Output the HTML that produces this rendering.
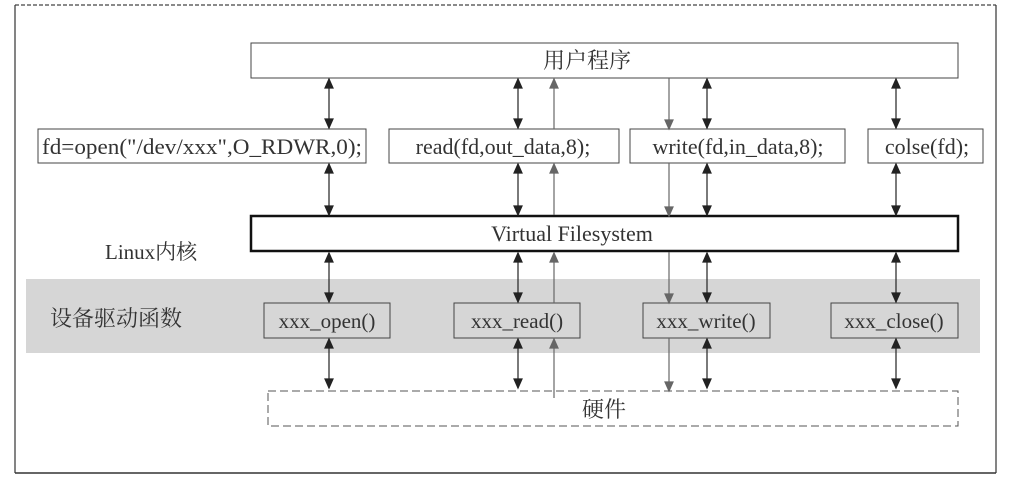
<!DOCTYPE html>
<html><head><meta charset="utf-8"><style>
html,body{margin:0;padding:0;background:#fff;}
svg{display:block;}
text{font-family:"Liberation Serif","Noto Serif CJK SC",serif;fill:#333;}
</style></head><body>
<svg width="1009" height="483" viewBox="0 0 1009 483" xmlns="http://www.w3.org/2000/svg">
<rect width="1009" height="483" fill="#fff"/>
<line x1="15" y1="5" x2="996" y2="5" stroke="#444" stroke-width="1.2" stroke-dasharray="4,2"/>
<line x1="15" y1="5" x2="15" y2="473" stroke="#333" stroke-width="1.2"/>
<line x1="996" y1="5" x2="996" y2="473" stroke="#333" stroke-width="1.2"/>
<line x1="15" y1="473" x2="996" y2="473" stroke="#333" stroke-width="1.5"/>
<rect x="26" y="279" width="954" height="74" fill="#d6d6d6"/>
<rect x="251" y="43" width="707" height="35" fill="#fff" stroke="#444" stroke-width="1"/>
<text x="587" y="68" font-size="22" text-anchor="middle">用户程序</text>
<rect x="38" y="129" width="328" height="34" fill="#fff" stroke="#444"/>
<text x="202" y="154" font-size="22" text-anchor="middle" textLength="320" lengthAdjust="spacingAndGlyphs">fd=open("/dev/xxx",O_RDWR,0);</text>
<rect x="389" y="129" width="230" height="34" fill="#fff" stroke="#444"/>
<text x="503" y="154" font-size="22" text-anchor="middle">read(fd,out_data,8);</text>
<rect x="630" y="129" width="215" height="34" fill="#fff" stroke="#444"/>
<text x="738" y="154" font-size="22" text-anchor="middle">write(fd,in_data,8);</text>
<rect x="868" y="129" width="115" height="34" fill="#fff" stroke="#444"/>
<text x="927" y="154" font-size="22" text-anchor="middle">colse(fd);</text>
<rect x="251" y="216" width="707" height="35" fill="#fff" stroke="#111" stroke-width="2.5"/>
<text x="572" y="241" font-size="22" text-anchor="middle">Virtual Filesystem</text>
<text x="105" y="259" font-size="21">Linux内核</text>
<text x="50" y="326" font-size="22">设备驱动函数</text>
<rect x="264" y="303" width="126" height="35" fill="#d6d6d6" stroke="#444"/>
<text x="327" y="328" font-size="21" text-anchor="middle">xxx_open()</text>
<rect x="454" y="303" width="126" height="35" fill="#d6d6d6" stroke="#444"/>
<text x="517" y="328" font-size="21" text-anchor="middle">xxx_read()</text>
<rect x="643" y="303" width="127" height="35" fill="#d6d6d6" stroke="#444"/>
<text x="706" y="328" font-size="21" text-anchor="middle">xxx_write()</text>
<rect x="831" y="303" width="127" height="35" fill="#d6d6d6" stroke="#444"/>
<text x="894" y="328" font-size="21" text-anchor="middle">xxx_close()</text>
<rect x="268" y="391" width="690" height="35" fill="none" stroke="#555" stroke-dasharray="8,4"/>
<text x="604" y="417" font-size="22" text-anchor="middle">硬件</text>
<g stroke="#222" stroke-width="1.2" fill="#222">
<!-- x=329 -->
<line x1="329" y1="79" x2="329" y2="128"/><path d="M325,88 L333,88 L329,79 Z M325,119 L333,119 L329,128 Z"/>
<line x1="329" y1="164" x2="329" y2="215"/><path d="M325,173 L333,173 L329,164 Z M325,206 L333,206 L329,215 Z"/>
<line x1="329" y1="253" x2="329" y2="302"/><path d="M325,262 L333,262 L329,253 Z M325,293 L333,293 L329,302 Z"/>
<line x1="329" y1="339" x2="329" y2="388"/><path d="M325,348 L333,348 L329,339 Z M325,379 L333,379 L329,388 Z"/>
<!-- x=518 -->
<line x1="518" y1="79" x2="518" y2="128"/><path d="M514,88 L522,88 L518,79 Z M514,119 L522,119 L518,128 Z"/>
<line x1="518" y1="164" x2="518" y2="215"/><path d="M514,173 L522,173 L518,164 Z M514,206 L522,206 L518,215 Z"/>
<line x1="518" y1="253" x2="518" y2="302"/><path d="M514,262 L522,262 L518,253 Z M514,293 L522,293 L518,302 Z"/>
<line x1="518" y1="339" x2="518" y2="388"/><path d="M514,348 L522,348 L518,339 Z M514,379 L522,379 L518,388 Z"/>
<!-- x=707 -->
<line x1="707" y1="79" x2="707" y2="128"/><path d="M703,88 L711,88 L707,79 Z M703,119 L711,119 L707,128 Z"/>
<line x1="707" y1="164" x2="707" y2="215"/><path d="M703,173 L711,173 L707,164 Z M703,206 L711,206 L707,215 Z"/>
<line x1="707" y1="253" x2="707" y2="302"/><path d="M703,262 L711,262 L707,253 Z M703,293 L711,293 L707,302 Z"/>
<line x1="707" y1="339" x2="707" y2="388"/><path d="M703,348 L711,348 L707,339 Z M703,379 L711,379 L707,388 Z"/>
<!-- x=896 -->
<line x1="896" y1="79" x2="896" y2="128"/><path d="M892,88 L900,88 L896,79 Z M892,119 L900,119 L896,128 Z"/>
<line x1="896" y1="164" x2="896" y2="215"/><path d="M892,173 L900,173 L896,164 Z M892,206 L900,206 L896,215 Z"/>
<line x1="896" y1="253" x2="896" y2="302"/><path d="M892,262 L900,262 L896,253 Z M892,293 L900,293 L896,302 Z"/>
<line x1="896" y1="339" x2="896" y2="388"/><path d="M892,348 L900,348 L896,339 Z M892,379 L900,379 L896,388 Z"/>
</g>
<g stroke="#666" stroke-width="1.2" fill="#666">
<line x1="554" y1="88" x2="554" y2="129"/><path d="M550,88 L558,88 L554,79 Z"/>
<line x1="554" y1="173" x2="554" y2="215"/><path d="M550,173 L558,173 L554,164 Z"/>
<line x1="554" y1="262" x2="554" y2="303"/><path d="M550,262 L558,262 L554,253 Z"/>
<line x1="554" y1="348" x2="554" y2="398"/><path d="M550,348 L558,348 L554,339 Z"/>
<line x1="669" y1="78" x2="669" y2="120"/><path d="M665,120 L673,120 L669,129 Z"/>
<line x1="669" y1="163" x2="669" y2="207"/><path d="M665,207 L673,207 L669,216 Z"/>
<line x1="669" y1="252" x2="669" y2="294"/><path d="M665,294 L673,294 L669,303 Z"/>
<line x1="669" y1="338" x2="669" y2="382"/><path d="M665,382 L673,382 L669,391 Z"/>
</g>
</svg>
</body></html>
